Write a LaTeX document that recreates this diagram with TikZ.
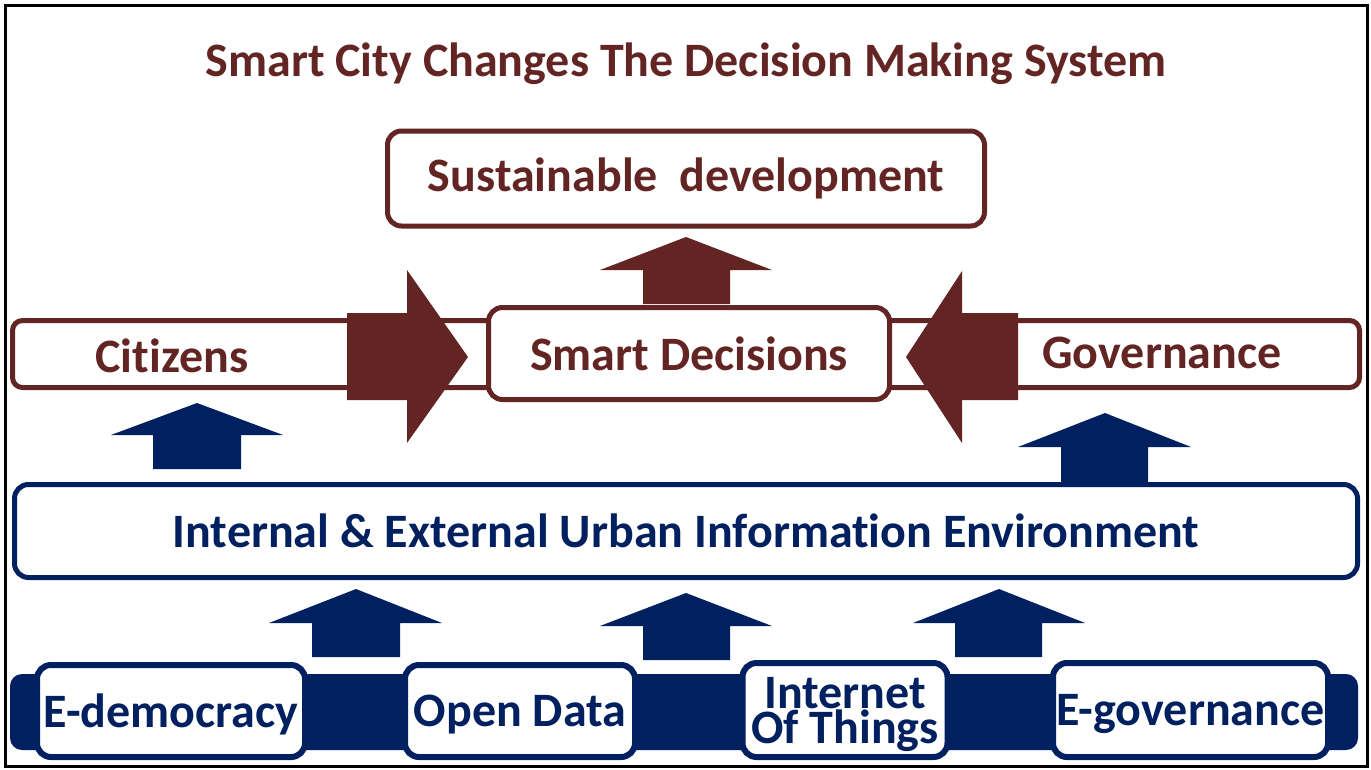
\documentclass[tikz,border=0pt]{standalone}
\usepackage{fontspec}
\setmainfont{Carlito}[Ligatures=NoCommon]
\definecolor{cityred}{HTML}{632523}
\definecolor{citynavy}{HTML}{002060}
\tikzset{
  redbox/.style={draw=cityred, line width=5pt, fill=white, rounded corners=14pt, inner sep=0pt},
  bluebox/.style={draw=citynavy, line width=5pt, fill=white, rounded corners=14pt, inner sep=0pt},
  redtext/.style={text=cityred, font=\bfseries\fontsize{48}{48}\selectfont},
  bluetext/.style={text=citynavy, font=\bfseries\fontsize{48}{48}\selectfont},
  sourcebox/.style={bluebox, bluetext, line width=6pt, text depth=0pt}
}
\begin{document}
\begin{tikzpicture}[x=1pt, y=-1pt]
  \useasboundingbox (0, 0) rectangle (1371, 769);
  \draw[line width=3pt] (5, 5) rectangle (1367, 766);
  % title
  \node[redtext] (title) at (686, 64) {Smart City Changes The Decision Making System};
  % top box
  \node[redbox, redtext, minimum width=597pt, minimum height=95pt] (sustain) at (686, 178.5) {Sustainable\ \ development};
  \fill[cityred] (643, 304) -- (643, 270) -- (600, 270) -- (686, 237) -- (772, 270) -- (730, 270) -- (730, 304) -- cycle;
  % middle row
  \node[redbox, rounded corners=10pt, minimum width=1347pt, minimum height=67pt] (bar) at (686, 354) {};
  \node[redtext] (citizens) at (172, 356) {Citizens};
  \node[redtext] (governance) at (1162, 353) {Governance};
  \node[redbox, redtext, minimum width=401pt, minimum height=92pt] (decisions) at (689, 353.5) {Smart Decisions};
  \fill[cityred] (347, 313) -- (407, 313) -- (407, 270) -- (468, 357) -- (407, 443) -- (407, 400) -- (347, 400) -- cycle;
  \fill[cityred] (1018, 313) -- (962, 313) -- (962, 271) -- (906, 357) -- (962, 443) -- (962, 400) -- (1018, 400) -- cycle;
  \fill[citynavy] (153, 469) -- (153, 435) -- (111, 435) -- (197, 403) -- (283, 435) -- (241, 435) -- (241, 469) -- cycle;
  \fill[citynavy] (1061, 482) -- (1061, 447) -- (1018, 447) -- (1105, 413) -- (1191, 447) -- (1148, 447) -- (1148, 482) -- cycle;
  % environment
  \node[bluebox, bluetext, minimum width=1343pt, minimum height=93pt] (environment) at (686, 531) {Internal \& External Urban Information Environment};
  \fill[citynavy] (312, 657) -- (312, 623) -- (269, 623) -- (356, 589) -- (442, 623) -- (400, 623) -- (400, 657) -- cycle;
  \fill[citynavy] (643, 660) -- (643, 626) -- (600, 626) -- (686, 593) -- (772, 626) -- (730, 626) -- (730, 660) -- cycle;
  \fill[citynavy] (955, 657) -- (955, 623) -- (913, 623) -- (999, 589) -- (1085, 623) -- (1042, 623) -- (1042, 657) -- cycle;
  % bottom row
  \fill[citynavy, rounded corners=12pt] (10, 674) rectangle (1358, 750);
  \node[sourcebox, minimum width=268pt, minimum height=92pt] (edemocracy) at (171, 711) {E-democracy};
  \node[sourcebox, minimum width=230pt, minimum height=92pt] (opendata) at (520, 711) {Open Data};
  \node[sourcebox, minimum width=205pt, minimum height=94pt, align=center, font=\bfseries\fontsize{48}{34}\selectfont] (iot) at (845, 710) {Internet\\Of Things};
  \node[sourcebox, minimum width=275pt, minimum height=94pt] (egovernance) at (1190.5, 710) {E-governance};
\end{tikzpicture}
\end{document}
